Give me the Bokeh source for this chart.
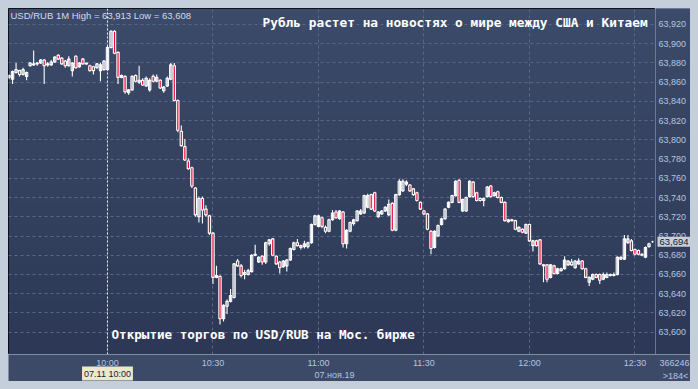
import numpy as np
import pandas as pd
from bokeh.plotting import figure
from bokeh.models import (Range1d, FixedTicker, Span, Label, ColumnDataSource)
from bokeh.core.properties import value
from bokeh.layouts import column, row
from bokeh.embed import file_html
from bokeh.resources import INLINE

# ---------------- data ----------------
start_time = "2019-11-07 09:32"   # first 1-minute candle
opens = [63.865, 63.863, 63.870, 63.872, 63.868, 63.866, 63.877, 63.878, 63.879, 63.880,
         63.883, 63.878, 63.878, 63.881, 63.888, 63.885, 63.882, 63.877, 63.872, 63.887,
         63.876, 63.884, 63.879, 63.877, 63.876, 63.875, 63.872, 63.873,
         63.873, 63.896, 63.913, 63.891, 63.865, 63.866, 63.849, 63.852, 63.867, 63.860,
         63.862, 63.856, 63.852, 63.866, 63.861, 63.862, 63.851, 63.856, 63.863, 63.877,
         63.841, 63.809, 63.793, 63.778, 63.771, 63.750, 63.720, 63.739, 63.728, 63.721,
         63.703, 63.657, 63.658, 63.614, 63.627, 63.632, 63.636, 63.674, 63.669, 63.660,
         63.660, 63.663, 63.680, 63.673, 63.679, 63.673, 63.692, 63.697, 63.679, 63.673,
         63.668, 63.669, 63.675, 63.686, 63.693, 63.688, 63.689, 63.689, 63.693, 63.712,
         63.710, 63.719, 63.709, 63.705, 63.717, 63.725, 63.718, 63.725, 63.692, 63.705,
         63.713, 63.716, 63.723, 63.724, 63.730, 63.743, 63.745, 63.720, 63.723, 63.726,
         63.722, 63.734, 63.706, 63.743, 63.747, 63.754, 63.753, 63.749, 63.745, 63.735,
         63.726, 63.723, 63.705, 63.688, 63.700, 63.712, 63.718, 63.730, 63.735, 63.742,
         63.758, 63.726, 63.726, 63.741, 63.756, 63.745, 63.739, 63.737, 63.741, 63.752,
         63.742, 63.746, 63.740, 63.735, 63.715, 63.717, 63.716, 63.705, 63.707, 63.703,
         63.712, 63.690, 63.695, 63.696, 63.669, 63.670, 63.657, 63.669, 63.661, 63.664,
         63.666, 63.670, 63.673, 63.667, 63.671, 63.674, 63.666, 63.652, 63.655, 63.660,
         63.660, 63.655, 63.657, 63.660, 63.659, 63.660, 63.676, 63.676, 63.693, 63.695,
         63.686, 63.685, 63.681, 63.678, 63.689, 63.694]
highs = [63.868, 63.872, 63.880, 63.873, 63.875, 63.871, 63.881, 63.893, 63.881, 63.884,
         63.884, 63.881, 63.883, 63.887, 63.889, 63.886, 63.883, 63.887, 63.881, 63.888,
         63.881, 63.885, 63.880, 63.878, 63.877, 63.880, 63.880, 63.883,
         63.898, 63.914, 63.914, 63.892, 63.868, 63.867, 63.853, 63.867, 63.868, 63.877,
         63.864, 63.866, 63.864, 63.868, 63.868, 63.863, 63.856, 63.866, 63.880, 63.880,
         63.842, 63.815, 63.801, 63.781, 63.772, 63.751, 63.741, 63.741, 63.732, 63.722,
         63.704, 63.669, 63.659, 63.629, 63.634, 63.645, 63.672, 63.676, 63.671, 63.665,
         63.666, 63.681, 63.691, 63.679, 63.680, 63.694, 63.697, 63.698, 63.680, 63.674,
         63.675, 63.676, 63.688, 63.694, 63.697, 63.691, 63.695, 63.694, 63.713, 63.722,
         63.722, 63.720, 63.711, 63.718, 63.727, 63.727, 63.727, 63.726, 63.707, 63.715,
         63.718, 63.727, 63.728, 63.743, 63.744, 63.744, 63.746, 63.726, 63.727, 63.731,
         63.738, 63.735, 63.744, 63.759, 63.759, 63.758, 63.754, 63.750, 63.746, 63.736,
         63.727, 63.724, 63.706, 63.706, 63.712, 63.719, 63.729, 63.736, 63.743, 63.758,
         63.759, 63.739, 63.741, 63.758, 63.757, 63.746, 63.740, 63.740, 63.752, 63.753,
         63.746, 63.747, 63.741, 63.736, 63.718, 63.718, 63.717, 63.710, 63.708, 63.713,
         63.713, 63.696, 63.696, 63.697, 63.671, 63.671, 63.671, 63.670, 63.667, 63.667,
         63.679, 63.675, 63.676, 63.675, 63.677, 63.675, 63.667, 63.658, 63.661, 63.661,
         63.661, 63.662, 63.662, 63.661, 63.662, 63.679, 63.679, 63.701, 63.701, 63.697,
         63.687, 63.686, 63.682, 63.689, 63.693, 63.695]
lows = [63.863, 63.858, 63.869, 63.866, 63.867, 63.862, 63.876, 63.877, 63.877, 63.879,
        63.858, 63.876, 63.877, 63.880, 63.883, 63.878, 63.875, 63.876, 63.866, 63.874,
        63.875, 63.878, 63.878, 63.871, 63.868, 63.874, 63.861, 63.872,
        63.872, 63.895, 63.889, 63.858, 63.864, 63.848, 63.847, 63.851, 63.860, 63.858,
        63.856, 63.855, 63.850, 63.860, 63.860, 63.853, 63.849, 63.855, 63.862, 63.840,
        63.808, 63.793, 63.778, 63.769, 63.750, 63.720, 63.714, 63.713, 63.720, 63.701,
        63.650, 63.656, 63.608, 63.611, 63.619, 63.631, 63.635, 63.668, 63.657, 63.655,
        63.659, 63.662, 63.679, 63.672, 63.670, 63.671, 63.690, 63.679, 63.670, 63.661,
        63.667, 63.663, 63.674, 63.685, 63.689, 63.686, 63.687, 63.687, 63.692, 63.711,
        63.709, 63.708, 63.703, 63.704, 63.716, 63.718, 63.717, 63.688, 63.687, 63.704,
        63.711, 63.715, 63.722, 63.723, 63.729, 63.727, 63.725, 63.719, 63.722, 63.725,
        63.721, 63.705, 63.705, 63.742, 63.746, 63.752, 63.746, 63.742, 63.736, 63.727,
        63.722, 63.706, 63.681, 63.687, 63.699, 63.711, 63.717, 63.729, 63.734, 63.741,
        63.734, 63.725, 63.725, 63.740, 63.740, 63.736, 63.736, 63.731, 63.740, 63.740,
        63.741, 63.739, 63.734, 63.715, 63.714, 63.715, 63.706, 63.704, 63.703, 63.702,
        63.694, 63.684, 63.689, 63.670, 63.652, 63.652, 63.656, 63.660, 63.660, 63.663,
        63.665, 63.669, 63.669, 63.666, 63.670, 63.665, 63.656, 63.648, 63.654, 63.656,
        63.650, 63.654, 63.656, 63.658, 63.658, 63.659, 63.675, 63.675, 63.692, 63.684,
        63.680, 63.680, 63.679, 63.677, 63.688, 63.693]
closes = [63.867, 63.871, 63.873, 63.868, 63.873, 63.870, 63.880, 63.879, 63.880, 63.883,
          63.877, 63.879, 63.881, 63.886, 63.884, 63.879, 63.877, 63.884, 63.880, 63.875,
          63.880, 63.879, 63.880, 63.872, 63.872, 63.879, 63.878, 63.882,
          63.896, 63.913, 63.890, 63.865, 63.867, 63.850, 63.852, 63.866, 63.861, 63.862,
          63.857, 63.864, 63.862, 63.861, 63.865, 63.854, 63.855, 63.864, 63.878, 63.841,
          63.810, 63.794, 63.779, 63.770, 63.752, 63.722, 63.739, 63.727, 63.722, 63.703,
          63.657, 63.659, 63.614, 63.628, 63.632, 63.638, 63.671, 63.669, 63.659, 63.662,
          63.664, 63.680, 63.681, 63.678, 63.673, 63.693, 63.696, 63.680, 63.671, 63.667,
          63.674, 63.675, 63.687, 63.693, 63.690, 63.690, 63.692, 63.693, 63.712, 63.721,
          63.721, 63.710, 63.705, 63.717, 63.724, 63.719, 63.726, 63.692, 63.706, 63.714,
          63.717, 63.726, 63.726, 63.742, 63.742, 63.728, 63.726, 63.725, 63.726, 63.730,
          63.733, 63.706, 63.743, 63.757, 63.757, 63.756, 63.747, 63.743, 63.737, 63.728,
          63.723, 63.707, 63.687, 63.705, 63.711, 63.718, 63.728, 63.735, 63.742, 63.757,
          63.735, 63.738, 63.740, 63.757, 63.741, 63.737, 63.737, 63.739, 63.751, 63.741,
          63.745, 63.740, 63.735, 63.716, 63.717, 63.716, 63.707, 63.709, 63.704, 63.712,
          63.695, 63.695, 63.690, 63.671, 63.670, 63.655, 63.670, 63.661, 63.666, 63.666,
          63.675, 63.674, 63.670, 63.674, 63.674, 63.666, 63.657, 63.657, 63.660, 63.657,
          63.654, 63.660, 63.660, 63.659, 63.660, 63.678, 63.678, 63.697, 63.697, 63.685,
          63.681, 63.681, 63.680, 63.688, 63.692, 63.694]

y_ticks = [63.60, 63.62, 63.64, 63.66, 63.68, 63.70, 63.72, 63.74, 63.76, 63.78,
           63.80, 63.82, 63.84, 63.86, 63.88, 63.90, 63.92]
x_tick_times = ["10:00", "10:30", "11:00", "11:30", "12:00", "12:30"]
session_open = "10:00"
last_price = 63.694
bar_count = 184
volume_total = 366246
title_text = "Рубль растет на новостях о мире между США и Китаем"
note_text = "Открытие торгов по USD/RUB на Мос. бирже"
info_text = "USD/RUB 1M High = 63,913 Low = 63,608"
date_text = "07.ноя.19"
cursor_text = "07.11 10:00"

# ---------------- helpers ----------------
day = "2019-11-07 "
def ms(t):
    return pd.Timestamp(day + t).value / 1e6

def fmt(v):
    return f"{v:.3f}".replace(".", ",")

times = pd.date_range(start_time, periods=len(closes), freq="1min")
o = np.array(opens); c = np.array(closes); h = np.array(highs); l = np.array(lows)
up = c >= o

# page geometry: price frame x 8..655, y 8..354 ; right panel 655..690 ; bottom panel 354..381
FX0, FX1, FY0, FY1 = 8, 655, 8, 354
RX1, BY1 = 690, 381
x0 = ms("10:00") - 28.15 * 60000
x1 = x0 + 184.0 * 60000
ymin, ymax = 63.5768, 63.9366

def px_x(px):
    return x0 + (px - FX0) / (FX1 - FX0) * (x1 - x0)

def px_y(py):
    return ymax - (py - FY0) / (FY1 - FY0) * (ymax - ymin)

BG_TOP = (60, 75, 105)
BG_BOT = (44, 56, 86)
PANEL = "#3d4a67"
LABEL_COL = "#b3c5e0"
FONT = "Liberation Sans"
SMALL = "9px"

yr = Range1d(ymin, ymax)
common = dict(output_backend="svg", toolbar_location=None, min_border=0,
              x_axis_location=None, y_axis_location=None)

# gradient image (background styling only)
n = 64
img = np.empty((n, 1), dtype=np.uint32)
view = img.view(dtype=np.uint8).reshape((n, 1, 4))
for i in range(n):
    f = i / (n - 1)
    view[i, 0, 0:3] = [int(BG_BOT[k] + (BG_TOP[k] - BG_BOT[k]) * f) for k in range(3)]
    view[i, 0, 3] = 255

# ---------------- main price panel ----------------
p = figure(width=FX1 - FX0, height=FY1 - FY0, x_axis_type="datetime",
           x_range=Range1d(x0, x1), y_range=yr, background_fill_color="#35425f",
           border_fill_color=PANEL, outline_line_color="black", outline_line_width=1, **common)
p.image_rgba(image=[img], x=x0, y=ymin, dw=x1 - x0, dh=ymax - ymin, level="image")
p.xgrid.ticker = FixedTicker(ticks=[ms(t) for t in x_tick_times])
p.ygrid.ticker = FixedTicker(ticks=y_ticks)
for g in (p.xgrid[0], p.ygrid[0]):
    g.grid_line_color = "#5a6885"
    g.grid_line_dash = "3 3"
    g.grid_line_width = 1

p.add_layout(Span(location=ms(session_open), dimension="height", line_color="#eef2f8",
                  line_dash="2 2", line_width=1))

bar_w = 0.66 * 60000
src_up = ColumnDataSource(dict(t=times[up], top=c[up], bottom=o[up], h=h[up], l=l[up]))
src_dn = ColumnDataSource(dict(t=times[~up], top=o[~up], bottom=c[~up], h=h[~up], l=l[~up]))
for s in (src_up, src_dn):
    p.segment(x0="t", y0="l", x1="t", y1="h", source=s, line_color="white", line_width=1.1)
p.vbar(x="t", width=bar_w, top="top", bottom="bottom", source=src_up,
       fill_alpha=0, line_color="white", line_width=1.1)
p.vbar(x="t", width=bar_w, top="top", bottom="bottom", source=src_dn,
       fill_color="#e8103a", line_color="white", line_width=1.1)

p.add_layout(Label(x=px_x(10), y=px_y(15), text=info_text, text_color="#d3dcea",
                   text_font=FONT, text_font_size="9.5px",
                   text_baseline="middle", text_align="left"))
p.add_layout(Label(x=px_x(262), y=px_y(22), text=title_text, text_color="white",
                   text_font="DejaVu Sans Mono", text_font_size="12.8px", text_font_style="bold",
                   text_baseline="middle", text_align="left"))
p.add_layout(Label(x=px_x(111), y=px_y(334), text=note_text, text_color="white",
                   text_font="DejaVu Sans Mono", text_font_size="12.6px", text_font_style="bold",
                   text_baseline="middle", text_align="left"))

# ---------------- right price-scale panel ----------------
pr = figure(width=RX1 - FX1, height=FY1 - FY0, x_range=Range1d(FX1, RX1), y_range=yr,
            background_fill_color=PANEL, border_fill_color=PANEL, outline_line_color=None, **common)
pr.image_rgba(image=[img], x=FX1, y=ymin, dw=RX1 - FX1, dh=ymax - ymin, level="image")
pr.grid.visible = False
pr.text(x=[FX1 + 3] * len(y_ticks), y=y_ticks, text=[fmt(v) for v in y_ticks],
        text_color=LABEL_COL, text_font=value(FONT), text_font_size=value(SMALL),
        text_baseline="middle", text_align="left")
pr.add_layout(Label(x=FX1 + 2, y=last_price, text=fmt(last_price), text_color="#151a2a",
                    text_font=FONT, text_font_size="9.5px", text_baseline="middle",
                    text_align="left", background_fill_color="#c9ced8", padding=2))

# ---------------- bottom time-scale panel ----------------
pb = figure(width=RX1 - FX0, height=BY1 - FY1, x_axis_type="datetime",
            x_range=Range1d(x0, px_x(RX1)), y_range=Range1d(BY1, FY1),
            background_fill_color=PANEL, border_fill_color=PANEL, outline_line_color=None, **common)
pb.grid.visible = False
pb.text(x=[ms(t) for t in x_tick_times], y=[FY1 + 8] * len(x_tick_times), text=x_tick_times,
        text_color=LABEL_COL, text_font=value(FONT), text_font_size=value(SMALL),
        text_baseline="middle", text_align="center")
pb.add_layout(Label(x=ms(session_open), y=FY1 + 19, text=cursor_text, text_color="#1c2030",
                    text_font=FONT, text_font_size=SMALL, text_baseline="middle",
                    text_align="center", background_fill_color="#ebe8cb", padding=2))
pb.add_layout(Label(x=px_x(334), y=FY1 + 20, text=date_text, text_color=LABEL_COL,
                    text_font=FONT, text_font_size=SMALL, text_baseline="middle",
                    text_align="center"))
pb.add_layout(Label(x=px_x(689), y=FY1 + 8, text=str(volume_total), text_color=LABEL_COL,
                    text_font=FONT, text_font_size=SMALL, text_baseline="middle",
                    text_align="right"))
pb.add_layout(Label(x=px_x(675), y=FY1 + 21, text=">" + str(bar_count) + "<", text_color=LABEL_COL,
                    text_font=FONT, text_font_size=SMALL, text_baseline="middle",
                    text_align="center"))

inner = column(row(p, pr), pb)
inner.margin = (8, 8, 8, 8)
layout = column(inner, styles={"background-color": "#c4cfdb"})
open("out.html", "w").write(file_html(layout, INLINE))
